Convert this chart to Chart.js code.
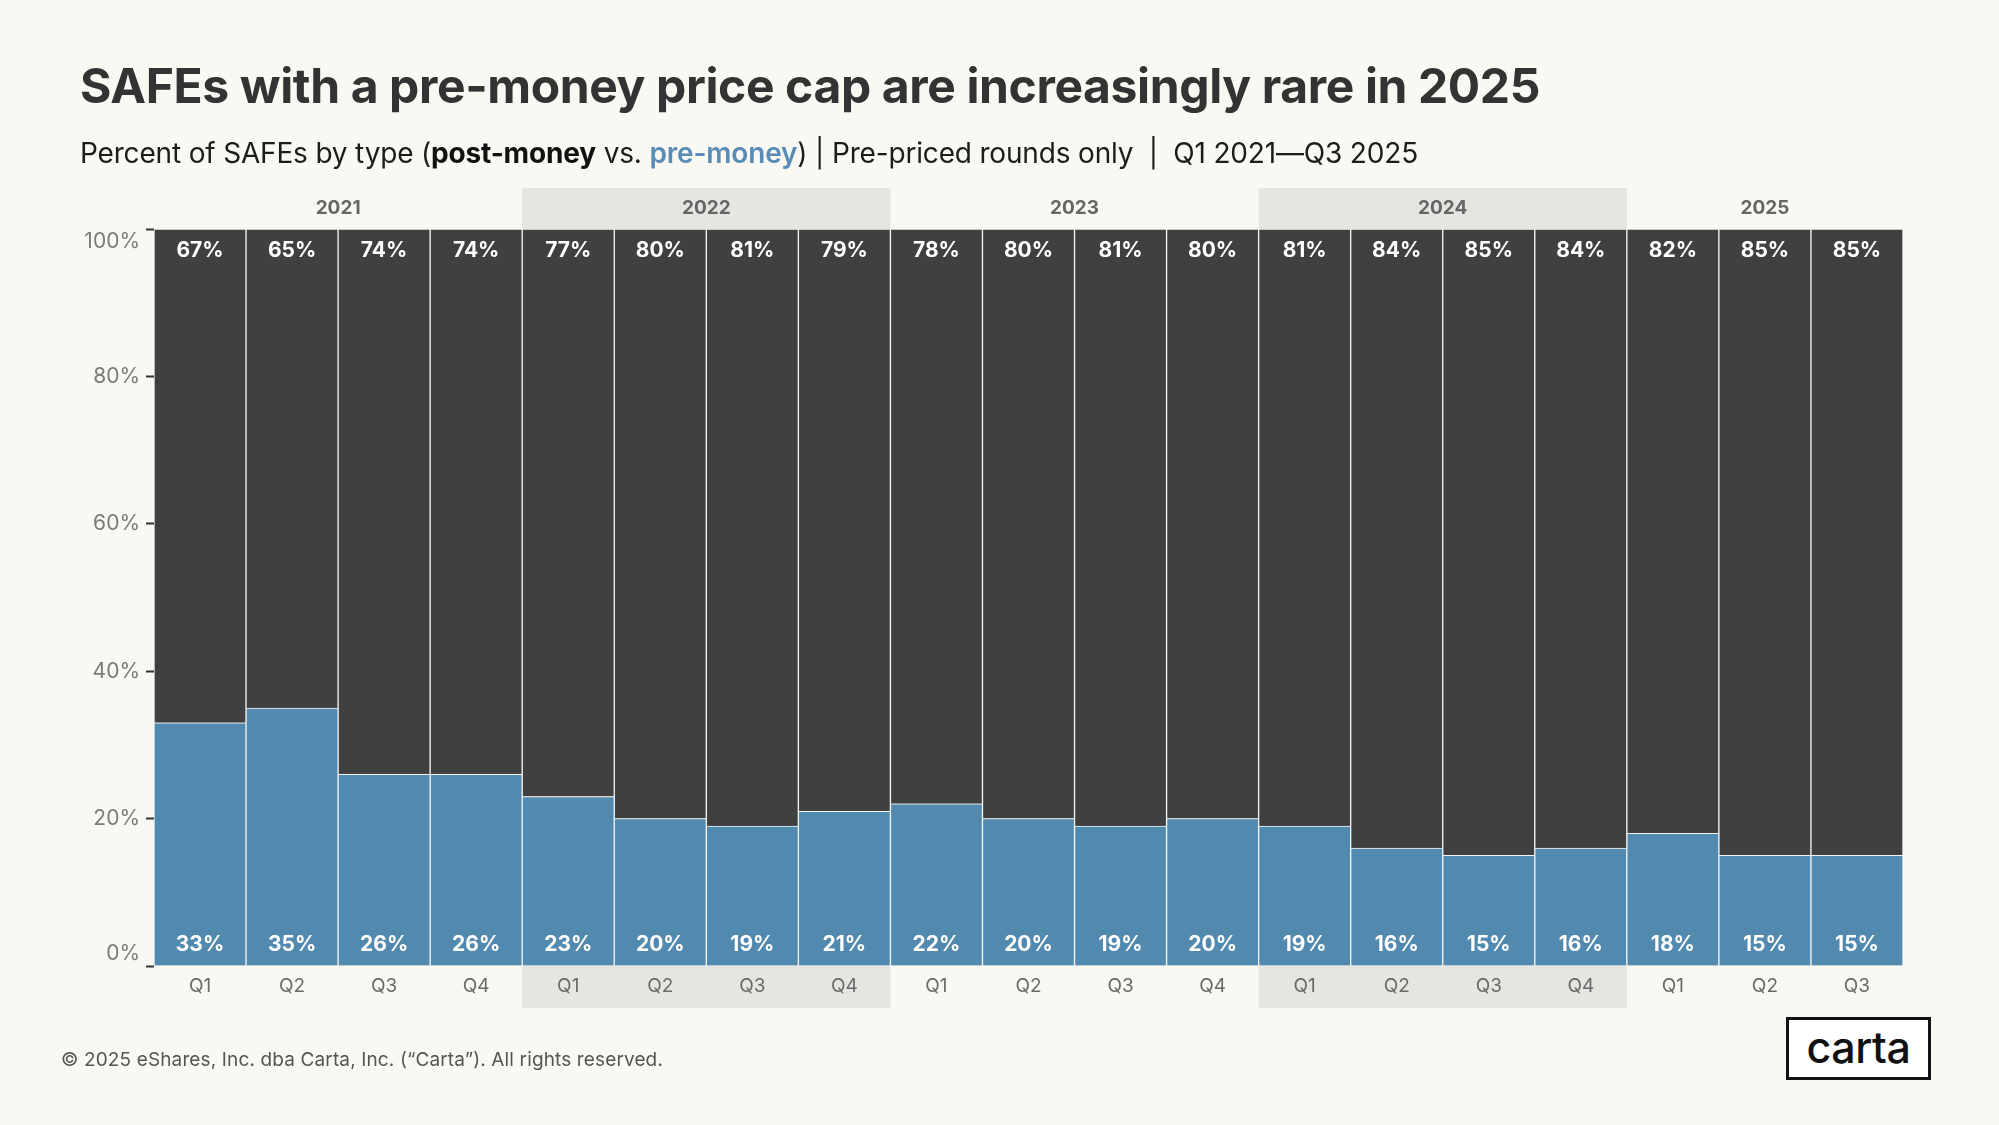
<!DOCTYPE html>
<html>
<head>
<meta charset="utf-8">
<script src="https://cdn.jsdelivr.net/npm/chart.js@4"></script>
<style>
  html, body { margin: 0; padding: 0; background: #FAF8F2; }
  body { width: 1999px; height: 1125px; position: relative; overflow: hidden; font-family: Inter, "Noto Sans", sans-serif; }
  #c { position: absolute; left: 0; top: 0; }
  .txt { position: absolute; white-space: nowrap; line-height: 1; }
  #title { left: 80px; top: 62px; font-size: 48px; font-weight: 700; color: #333333; }
  #subtitle { left: 80px; top: 139px; font-size: 28px; font-weight: 400; color: #1c1c1c; }
  #subtitle b { font-weight: 700; color: #111; }
  #subtitle .pre { font-weight: 600; color: #5A8DB6; }
  #footer { left: 61px; top: 1050px; font-size: 19px; color: #555; }
  #logo { position: absolute; left: 1786px; top: 1017px; width: 139px; height: 57px; border: 3px solid #111; background: #fff;
          font-size: 43px; font-weight: 500; color: #111; text-align: center; line-height: 54px; letter-spacing: -0.5px; }
</style>
</head>
<body>
<canvas id="c" width="1999" height="1125"></canvas>
<div id="title" class="txt">SAFEs with a pre-money price cap are increasingly rare in 2025</div>
<div id="subtitle" class="txt">Percent of SAFEs by type (<b>post-money</b> vs. <span class="pre">pre-money</span>) | Pre-priced rounds only &nbsp;| &nbsp;Q1 2021—Q3 2025</div>
<div id="footer" class="txt">© 2025 eShares, Inc. dba Carta, Inc. (“Carta”). All rights reserved.</div>
<div id="logo">carta</div>
<script>
// ---- Data ----
const quarters = ['Q1','Q2','Q3','Q4','Q1','Q2','Q3','Q4','Q1','Q2','Q3','Q4','Q1','Q2','Q3','Q4','Q1','Q2','Q3'];
const quarterYears = ['2021','2021','2021','2021','2022','2022','2022','2022','2023','2023','2023','2023','2024','2024','2024','2024','2025','2025','2025'];
const shadedYears = ['2022','2024'];
const preMoney  = [33,35,26,26,23,20,19,21,22,20,19,20,19,16,15,16,18,15,15];
const postMoney = [67,65,74,74,77,80,81,79,78,80,81,80,81,84,85,84,82,85,85];
const yTicks = [0,20,40,60,80,100];

// ---- text fitting (letter-spacing) ----
function fitWidth(id, target) {
  const el = document.getElementById(id);
  const w = el.getBoundingClientRect().width;
  const n = el.textContent.length;
  el.style.letterSpacing = ((target - w) / n) + 'px';
}
fitWidth('title', 1460);
fitWidth('subtitle', 1338);
fitWidth('footer', 602);

const BLUE = '#5289AE';
const DARK = '#404040';
const BAND = '#E6E5E2';
const FONT = 'Inter, "Noto Sans", sans-serif';

const yearPlugin = {
  id: 'yearBands',
  beforeDraw(chart) {
    const ctx = chart.ctx, x = chart.scales.x, area = chart.chartArea;
    const step = x.getPixelForValue(1) - x.getPixelForValue(0);
    const groups = [];
    quarterYears.forEach((y, i) => {
      const g = groups[groups.length - 1];
      if (g && g.year === y) g.end = i; else groups.push({ year: y, start: i, end: i });
    });
    ctx.save();
    groups.forEach(g => {
      const l = x.getPixelForValue(g.start) - step / 2;
      const r = x.getPixelForValue(g.end) + step / 2;
      if (shadedYears.includes(g.year)) {
        ctx.fillStyle = BAND;
        ctx.fillRect(l, area.top - 41, r - l, 41);
        ctx.fillRect(l, area.bottom, r - l, 42);
      }
      ctx.fillStyle = '#666666';
      ctx.font = '700 19px ' + FONT;
      ctx.textAlign = 'center';
      ctx.textBaseline = 'middle';
      ctx.fillText(g.year, (l + r) / 2, area.top - 21);
    });
    ctx.restore();
  }
};

const labelPlugin = {
  id: 'barLabels',
  afterDatasetsDraw(chart) {
    const ctx = chart.ctx;
    ctx.save();
    ctx.fillStyle = '#FFFFFF';
    ctx.font = '700 21px ' + FONT;
    ctx.textAlign = 'center';
    ctx.textBaseline = 'middle';
    chart.data.datasets.forEach((ds, di) => {
      const meta = chart.getDatasetMeta(di);
      meta.data.forEach((bar, i) => {
        const v = ds.data[i];
        const y = di === 0 ? bar.base - 21 : bar.y + 22;
        ctx.fillText(v + '%', bar.x, y);
      });
    });
    ctx.restore();
  }
};

new Chart(document.getElementById('c'), {
  type: 'bar',
  data: {
    labels: quarters,
    datasets: [
      { label: 'pre-money', data: preMoney, backgroundColor: BLUE, borderColor: '#F4F4F2', borderWidth: 1 },
      { label: 'post-money', data: postMoney, backgroundColor: DARK, borderColor: '#F4F4F2', borderWidth: 1 }
    ]
  },
  options: {
    responsive: false,
    animation: false,
    devicePixelRatio: 1,
    layout: { padding: { left: 0, right: 96, top: 229, bottom: 99 } },
    datasets: { bar: { barPercentage: 1, categoryPercentage: 1 } },
    plugins: { legend: { display: false }, tooltip: { enabled: false } },
    scales: {
      x: {
        stacked: true,
        grid: { display: false, drawTicks: false },
        border: { display: false },
        ticks: { color: '#6A6A6A', font: { family: FONT, size: 19 }, padding: 9, maxRotation: 0, autoSkip: false },
        afterFit(scale) { scale.height = 60; }
      },
      y: {
        stacked: true,
        min: 0, max: 100,
        afterBuildTicks(scale) { scale.ticks = yTicks.map(v => ({ value: v })); },
        grid: { drawOnChartArea: false, drawTicks: true, tickLength: 8, tickWidth: 2, tickColor: '#333333' },
        border: { display: false },
        ticks: {
          color: '#7A7A7A', padding: 6,
          font: { family: FONT, size: 21 },
          callback(v) {
            if (v === 100) return ['', '100%'];
            if (v === 0) return ['0%', ''];
            return v + '%';
          }
        },
        afterFit(scale) { scale.width = 154; }
      }
    }
  },
  plugins: [yearPlugin, labelPlugin]
});
</script>
</body>
</html>
